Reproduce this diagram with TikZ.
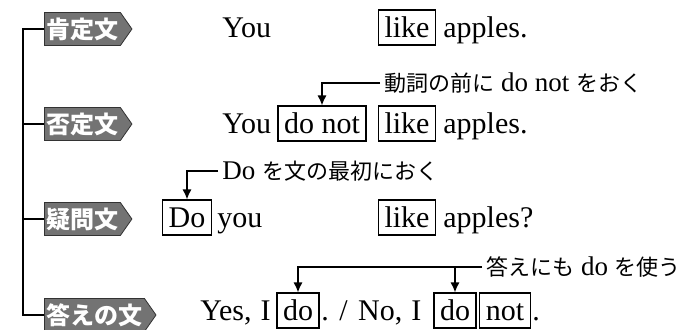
\documentclass[tikz,border=0pt]{standalone}
\usepackage{fontspec}
\setmainfont{Liberation Serif}
\newfontfamily\jpfont{Noto Sans CJK JP}
\usetikzlibrary{shapes.symbols, arrows.meta}

\newcommand{\jtext}[1]{{\jpfont\fontsize{11}{13}\selectfont #1}}

\tikzset{
	tag/.style = {shape = signal, signal to = east, signal pointer angle = 110,
		fill = black!55, draw = black!80, text = white,
		font = \jpfont\bfseries\fontsize{12}{14}\selectfont,
		inner xsep = 1pt, inner ysep = 2.5pt, anchor = west},
	word/.style = {inner sep = 0pt, anchor = base west, font = \fontsize{15}{18}\selectfont},
	wbox/.style = {draw, line width = 0.6pt, inner xsep = 3pt, inner ysep = 2pt,
		text height = 11.5pt, text depth = 2pt, anchor = base,
		font = \fontsize{15}{18}\selectfont},
	note/.style = {inner sep = 2pt, anchor = west, font = \fontsize{13.5}{16}\selectfont}
}

\begin{document}
\begin{tikzpicture}[x = 0.5pt, y = -0.5pt, > = {Latex[length = 5pt, width = 4.5pt]}]
	
	\useasboundingbox (0, 0) rectangle (692, 329);
	
	% The four tags
	
	\node [tag] (k1) at (44, 29) {肯定文};
	\node [tag] (k2) at (44, 124) {否定文};
	\node [tag] (k3) at (44, 219) {疑問文};
	\node [tag] (k4) at (44, 315) {答えの文};
	
	% Bracket on the left
	
	\begin{scope}[line width = 0.8pt]
	
		\draw (k1.west) -- ++(-21, 0) |- (k4.west);
		\draw (k2.west) -- ++(-21, 0);
		\draw (k3.west) -- ++(-21, 0);
		
	\end{scope}
	
	% Sentence 1
	
	\node [word] (a1) at (222, 37) {You};
	\node [wbox] (l1) at (407, 37) {like};
	\node [word] (p1) at (443, 37) {apples.};
	
	% Sentence 2
	
	\node [word] (a2) at (222, 133) {You};
	\node [wbox] (dn) at (322, 133) {do not};
	\node [wbox] (l2) at (407, 133) {like};
	\node [word] (p2) at (443, 133) {apples.};
	
	% Sentence 3
	
	\node [wbox] (db) at (187, 227) {Do};
	\node [word] (a3) at (217, 227) {you};
	\node [wbox] (l3) at (407, 227) {like};
	\node [word] (p3) at (443, 227) {apples?};
	
	% Sentence 4
	
	\node [word] (y4) at (200, 320) {Yes,\hspace{0.3em}I};
	\node [wbox] (d1) at (298, 320) {do};
	\node [word] (n4) at (321, 320) {.\hspace{0.35em}/\hspace{0.35em}No,\hspace{0.3em}I};
	\node [wbox] (d2) at (455, 320) {do};
	\node [wbox] (nt) at (505, 320) {not};
	\node [word] (e4) at (532, 320) {.};
	
	% Notes with their arrows
	
	\node [note] (c1) at (380, 83) {\jtext{動詞の前に} do not \jtext{をおく}};
	\node [note] (c2) at (218, 171) {Do \jtext{を文の最初におく}};
	\node [note] (c3) at (482, 267) {\jtext{答えにも} do \jtext{を使う}};
	
	\begin{scope}[->, line width = 0.6pt]
	
		\draw (c1.west) -| (dn.north);
		\draw (c2.west) -| (db.north);
		\draw (c3.west) -| (d1.north);
		\draw (c3.west -| d2.north) -- (d2.north);
		
	\end{scope}

\end{tikzpicture}
\end{document}
